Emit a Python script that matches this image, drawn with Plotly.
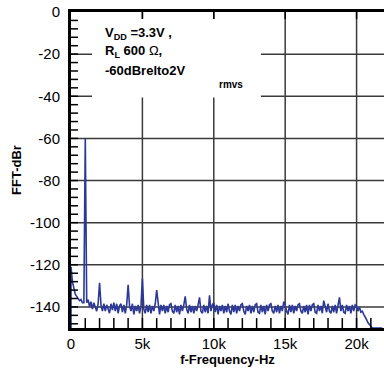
import plotly.graph_objects as go

# Frequency grid (Hz), 100 Hz steps, plus the leading 0 Hz floor point
freq_hz = [0] + list(range(0, 21900, 100))

# FFT level (dBr)
level_dbr = [-150,
    -121, -128, -132, -134, -135, -136, -137, -136.5, -138, -138,
    -60, -138, -136.5, -140, -137.5, -141, -138, -140, -142, -138.5,
    -128.5, -139, -142, -138.5, -142, -139, -141, -143, -138.5, -141.5,
    -138, -142, -138.5, -143, -139.5, -138.5, -142.5, -139, -143, -139,
    -129.5, -139.5, -142, -138.5, -143.5, -139.5, -142, -139, -143, -139.5,
    -126.5, -141, -143, -139, -142.5, -139, -143, -139.5, -142, -138.5,
    -132, -139.5, -143.5, -139, -142, -139, -143, -139.5, -142.5, -139,
    -138.5, -142, -143, -139, -142.5, -139.5, -143.5, -139, -142, -139,
    -135, -141, -143, -139, -142.5, -139.5, -143, -139.5, -142, -139,
    -135.5, -142, -143, -139, -142.5, -139.5, -143, -134.5, -142, -139,
    -138, -142.5, -139, -143.5, -139.5, -142, -139, -143, -139.5, -142.5,
    -138.5, -142, -143.5, -139, -142.5, -139, -143, -139.5, -142, -139,
    -138.5, -142, -143.5, -139.5, -142, -139, -143, -139.5, -142.5, -139,
    -138.5, -142.5, -143, -139, -142.5, -139.5, -143.5, -139, -142, -139,
    -138.5, -142, -143, -139.5, -142.5, -139, -143, -139.5, -142, -137.5,
    -139, -142, -143.5, -139, -142.5, -139, -143, -139.5, -142, -139,
    -138.5, -142, -143, -139.5, -142.5, -139, -143.5, -139, -142, -139,
    -138.5, -142.5, -143, -139, -142, -139.5, -143, -137, -139.5, -142.5,
    -138.5, -142, -143, -139.5, -142.5, -139, -143, -139.5, -135.5, -142,
    -139, -142.5, -143, -139, -142, -139.5, -143, -139, -142, -139,
    -139.5, -142, -140, -142.5, -142, -143.5, -144.5, -146, -147.5, -148.5,
    -149.5, -150, -150, -150, -150, -150, -150, -150, -150]

x_tick_vals = [0, 5000, 10000, 15000, 20000]
x_tick_text = ["0", "5k", "10k", "15k", "20k"]
y_tick_vals = [0, -20, -40, -60, -80, -100, -120, -140]
y_tick_text = ["0", "-20", "-40", "-60", "-80", "-100", "-120", "-140"]
x_minor_vals = [1000 * k for k in range(1, 22)]
y_minor_vals = [-4 * k for k in range(1, 38)]

x_range = [0, 21920]
y_range = [-150, 0]

# tick lengths in axis units (about 10 px, 7 px and 7 px)
x_tick_len_db = 4.7
top_tick_len_db = 3.3
y_tick_len_hz = 490

fig = go.Figure()
fig.add_trace(go.Scatter(x=freq_hz, y=level_dbr, mode="lines",
                         line=dict(color="#2b3898", width=1.6),
                         showlegend=False))

grid_line = dict(color="#3a3a3a", width=1.5)
tick_line = dict(color="black", width=1.5)

# grid lines at the major tick values
for v in x_tick_vals[1:]:
    fig.add_shape(type="line", xref="x", yref="y", x0=v, x1=v,
                  y0=y_range[0], y1=y_range[1], line=grid_line, layer="below")
for v in y_tick_vals[1:]:
    fig.add_shape(type="line", xref="x", yref="y", x0=x_range[0], x1=x_range[1],
                  y0=v, y1=v, line=grid_line, layer="below")

# white label box behind the annotation text (no data in this region)
fig.add_shape(type="rect", xref="x", yref="y", x0=1470, x1=13300, y0=-40.6, y1=-3.2,
              fillcolor="white", line=dict(width=0), layer="above")

# inside tick marks
for v in x_minor_vals:
    fig.add_shape(type="line", xref="x", yref="y", x0=v, x1=v,
                  y0=y_range[0], y1=y_range[0] + x_tick_len_db,
                  line=tick_line, layer="above")
for v in x_tick_vals[1:]:
    fig.add_shape(type="line", xref="x", yref="y", x0=v, x1=v,
                  y0=y_range[1], y1=y_range[1] - top_tick_len_db,
                  line=tick_line, layer="above")
for v in y_minor_vals:
    fig.add_shape(type="line", xref="x", yref="y", x0=x_range[0],
                  x1=x_range[0] + y_tick_len_hz, y0=v, y1=v,
                  line=tick_line, layer="above")

font_bold = dict(family="Arial", size=13, color="black")
fig.add_annotation(x=2250, y=-10.2, xref="x", yref="y", xanchor="left", yanchor="middle",
                   text="<b>V<sub>DD</sub> =3.3V ,</b>", showarrow=False, font=font_bold)
fig.add_annotation(x=2250, y=-18.8, xref="x", yref="y", xanchor="left", yanchor="middle",
                   text="<b>R<sub>L</sub> 600 </b>Ω<b>,</b>", showarrow=False, font=font_bold)
fig.add_annotation(x=2250, y=-27.6, xref="x", yref="y", xanchor="left", yanchor="middle",
                   text="<b>-60dBrelto2V</b>", showarrow=False, font=font_bold)
fig.add_annotation(x=10250, y=-34.2, xref="x", yref="y", xanchor="left", yanchor="middle",
                   text="<b>rmvs</b>", showarrow=False,
                   font=dict(family="Arial", size=10, color="black"))

fig.update_layout(
    width=384, height=370,
    margin=dict(l=71, r=0, t=12, b=42),
    paper_bgcolor="white", plot_bgcolor="white",
    font=dict(family="Arial", size=15, color="black"),
    xaxis=dict(range=x_range, tickmode="array", tickvals=x_tick_vals, ticktext=x_tick_text,
               showgrid=False, showline=True, linecolor="black", linewidth=3, mirror=True,
               ticks="", zeroline=False,
               title=dict(text="<b>f-Frequency-Hz</b>", standoff=4, font=dict(size=13))),
    yaxis=dict(range=y_range, tickmode="array", tickvals=y_tick_vals, ticktext=y_tick_text,
               showgrid=False, showline=True, linecolor="black", linewidth=3, mirror=False,
               ticks="", ticklabelstandoff=5, zeroline=False,
               title=dict(text="<b>FFT-dBr</b>", standoff=6, font=dict(size=13))),
)

fig.write_html("out.html", config={"displayModeBar": False})
